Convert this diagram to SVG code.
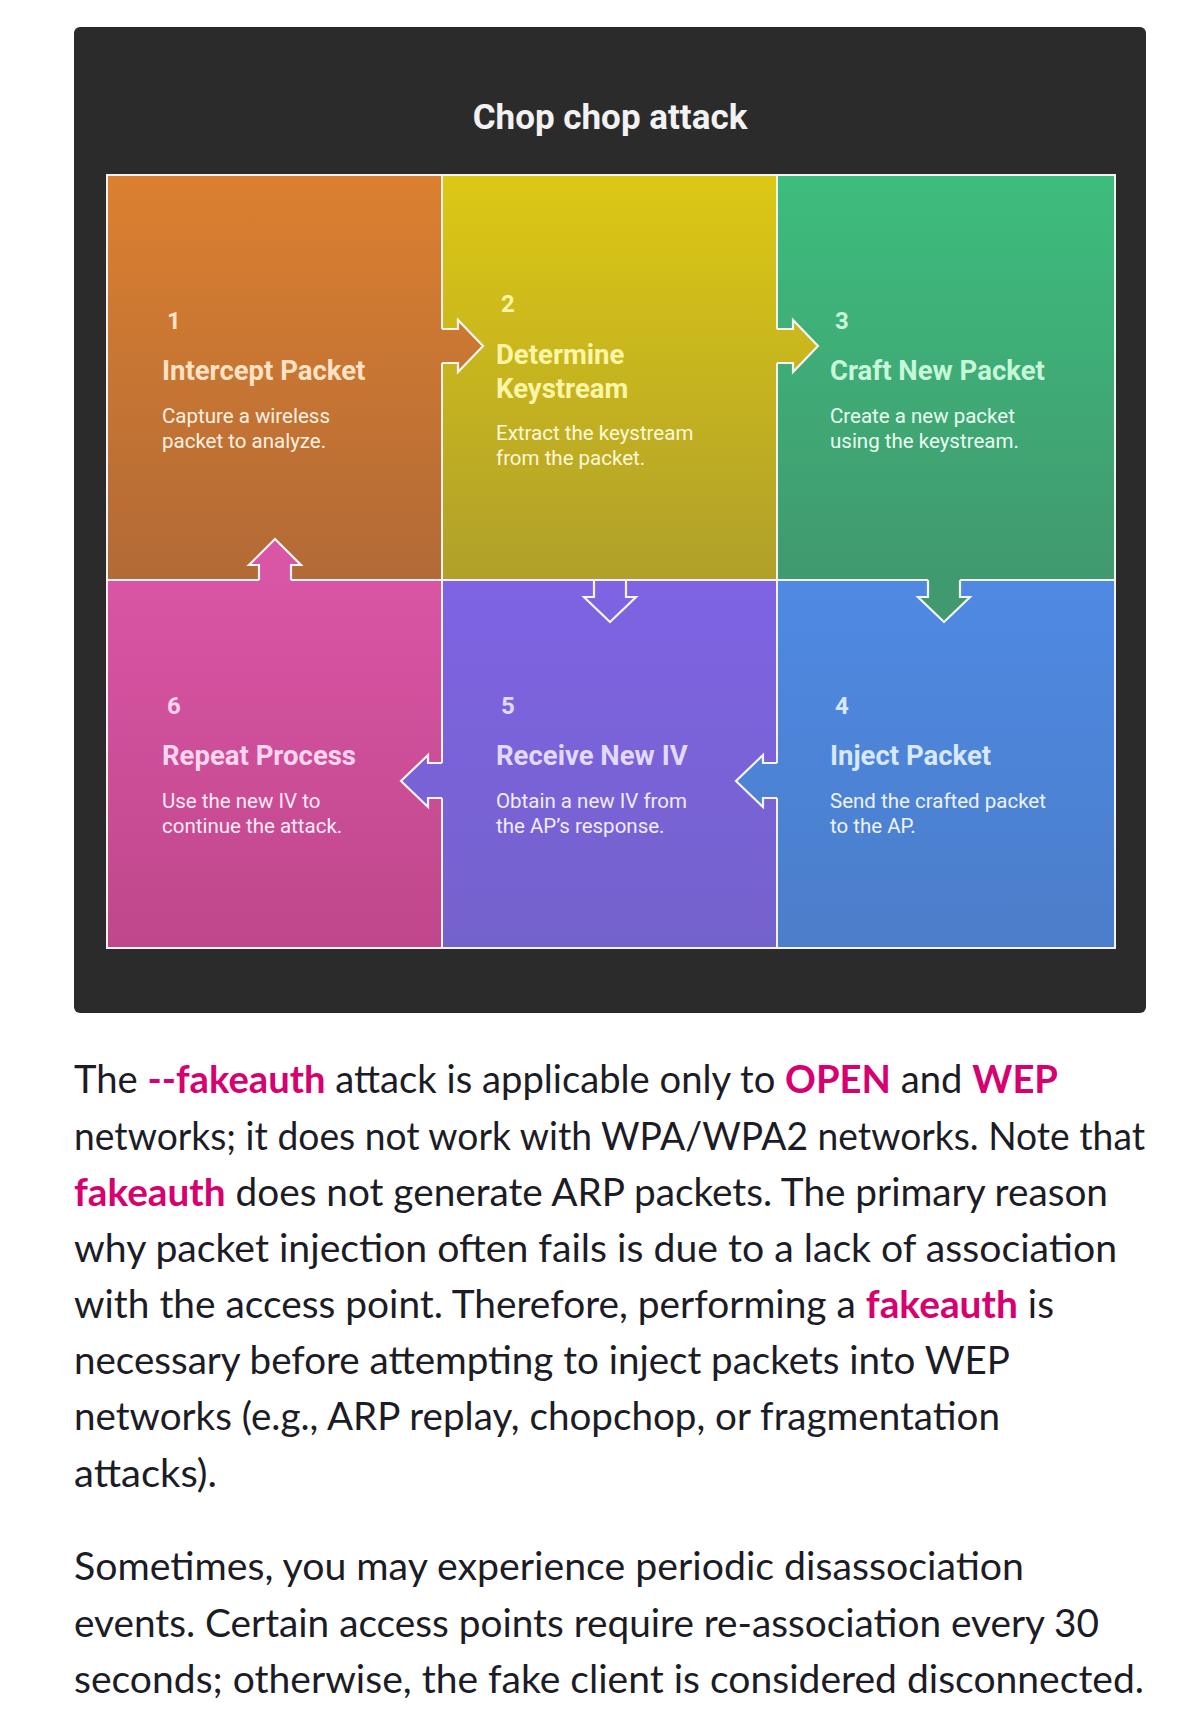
<svg xmlns="http://www.w3.org/2000/svg" width="1200" height="1717" viewBox="0 0 1200 1717">
<defs>
<linearGradient id="gOrange" gradientUnits="userSpaceOnUse" x1="0" y1="175" x2="0" y2="580"><stop offset="0" stop-color="#db8030"/><stop offset="1" stop-color="#b26a36"/></linearGradient>
<linearGradient id="gYellow" gradientUnits="userSpaceOnUse" x1="0" y1="175" x2="0" y2="580"><stop offset="0" stop-color="#dcc814"/><stop offset="1" stop-color="#b0a02a"/></linearGradient>
<linearGradient id="gGreen" gradientUnits="userSpaceOnUse" x1="0" y1="175" x2="0" y2="580"><stop offset="0" stop-color="#3dbd7d"/><stop offset="1" stop-color="#41996f"/></linearGradient>
<linearGradient id="gPink" gradientUnits="userSpaceOnUse" x1="0" y1="580" x2="0" y2="948"><stop offset="0" stop-color="#d955a5"/><stop offset="1" stop-color="#bf478a"/></linearGradient>
<linearGradient id="gPurple" gradientUnits="userSpaceOnUse" x1="0" y1="580" x2="0" y2="948"><stop offset="0" stop-color="#7f63e3"/><stop offset="1" stop-color="#7462cc"/></linearGradient>
<linearGradient id="gBlue" gradientUnits="userSpaceOnUse" x1="0" y1="580" x2="0" y2="948"><stop offset="0" stop-color="#4f89e3"/><stop offset="1" stop-color="#4b7eca"/></linearGradient>
</defs>
<style>
.cell{stroke:#f2f2f2;stroke-width:2}
.num{font-family:Roboto,"Liberation Sans",sans-serif;font-weight:700;font-size:24px}
.ttl{font-family:Roboto,"Liberation Sans",sans-serif;font-weight:700;font-size:27.5px}
.dsc{font-family:Roboto,"Liberation Sans",sans-serif;font-weight:400;font-size:20.5px}
.ol{fill:none;stroke:#f4f4f4;stroke-width:2.2;stroke-linejoin:miter}
.body{font-family:Lato,"Open Sans",sans-serif;font-size:38px;fill:#1c1c26}
.hl{fill:#d6016f;font-weight:700}
</style>
<rect width="1200" height="1717" fill="#ffffff"/>
<rect x="74" y="27" width="1072" height="986" rx="6" fill="#2b2b2b"/>
<text x="610" y="129" text-anchor="middle" font-family="Roboto,'Liberation Sans',sans-serif" font-weight="700" font-size="35" fill="#f2f2f2">Chop chop attack</text>

<g id="node1">
<rect class="cell" x="107" y="175" width="335" height="405" fill="url(#gOrange)"/>
<g fill="#ffe2c4">
<text class="num" x="167" y="329">1</text>
<text class="ttl" x="162" y="380">Intercept Packet</text>
</g>
<g fill="#fff1e2">
<text class="dsc" x="162" y="423">Capture a wireless</text>
<text class="dsc" x="162" y="448">packet to analyze.</text>
</g>
</g>

<g id="node2">
<rect class="cell" x="442" y="175" width="335" height="405" fill="url(#gYellow)"/>
<g fill="#fff5a6">
<text class="num" x="501" y="312">2</text>
<text class="ttl" x="496" y="364">Determine</text>
<text class="ttl" x="496" y="398">Keystream</text>
</g>
<g fill="#fff8d6">
<text class="dsc" x="496" y="440">Extract the keystream</text>
<text class="dsc" x="496" y="465">from the packet.</text>
</g>
</g>

<g id="node3">
<rect class="cell" x="777" y="175" width="338" height="405" fill="url(#gGreen)"/>
<g fill="#c6f7da">
<text class="num" x="835" y="329">3</text>
<text class="ttl" x="830" y="380">Craft New Packet</text>
</g>
<g fill="#e9fff1">
<text class="dsc" x="830" y="423">Create a new packet</text>
<text class="dsc" x="830" y="448">using the keystream.</text>
</g>
</g>

<g id="node6">
<rect class="cell" x="107" y="580" width="335" height="368" fill="url(#gPink)"/>
<g fill="#ffd6ee">
<text class="num" x="167" y="714">6</text>
<text class="ttl" x="162" y="765">Repeat Process</text>
</g>
<g fill="#ffeaf6">
<text class="dsc" x="162" y="808">Use the new IV to</text>
<text class="dsc" x="162" y="833">continue the attack.</text>
</g>
</g>

<g id="node5">
<rect class="cell" x="442" y="580" width="335" height="368" fill="url(#gPurple)"/>
<g fill="#e2dafe">
<text class="num" x="501" y="714">5</text>
<text class="ttl" x="496" y="765">Receive New IV</text>
</g>
<g fill="#f0ecff">
<text class="dsc" x="496" y="808">Obtain a new IV from</text>
<text class="dsc" x="496" y="833">the AP’s response.</text>
</g>
</g>

<g id="node4">
<rect class="cell" x="777" y="580" width="338" height="368" fill="url(#gBlue)"/>
<g fill="#d8e8ff">
<text class="num" x="835" y="714">4</text>
<text class="ttl" x="830" y="765">Inject Packet</text>
</g>
<g fill="#ecf3ff">
<text class="dsc" x="830" y="808">Send the crafted packet</text>
<text class="dsc" x="830" y="833">to the AP.</text>
</g>
</g>

<g id="connectors">
<!-- 1 to 2 -->
<polygon points="438,329 458,329 458,320 483,346 458,372 458,363 438,363" fill="url(#gOrange)"/>
<polyline class="ol" points="442,329 458,329 458,320 483,346 458,372 458,363 442,363"/>
<!-- 2 to 3 -->
<polygon points="773,329 793,329 793,320 818,346 793,372 793,363 773,363" fill="url(#gYellow)"/>
<polyline class="ol" points="777,329 793,329 793,320 818,346 793,372 793,363 777,363"/>
<!-- 3 to 4 -->
<polygon points="928,576 928,597 918,597 944,622 970,597 960,597 960,576" fill="url(#gGreen)"/>
<polyline class="ol" points="928,580 928,597 918,597 944,622 970,597 960,597 960,580"/>
<!-- 2 to 5 -->
<polygon points="594,581 594,597 584,597 610,622 636,597 626,597 626,581" fill="url(#gPurple)"/>
<polyline class="ol" points="594,580 594,597 584,597 610,622 636,597 626,597 626,580"/>
<!-- 4 to 5 -->
<polygon points="781,763 763,763 763,755 736,781 763,807 763,798 781,798" fill="url(#gBlue)"/>
<polyline class="ol" points="777,763 763,763 763,755 736,781 763,807 763,798 777,798"/>
<!-- 5 to 6 -->
<polygon points="446,763 428,763 428,755 401,781 428,807 428,798 446,798" fill="url(#gPurple)"/>
<polyline class="ol" points="442,763 428,763 428,755 401,781 428,807 428,798 442,798"/>
<!-- 6 to 1 -->
<polygon points="259,584 259,565 249,565 275,539 301,565 291,565 291,584" fill="url(#gPink)"/>
<polyline class="ol" points="259,580 259,565 249,565 275,539 301,565 291,565 291,580"/>
</g>

<g id="paragraph1" class="body">
<text x="74" y="1093" textLength="984" lengthAdjust="spacingAndGlyphs">The <tspan class="hl">--fakeauth</tspan> attack is applicable only to <tspan class="hl">OPEN</tspan> and <tspan class="hl">WEP</tspan></text>
<text x="74" y="1150" textLength="1071" lengthAdjust="spacingAndGlyphs">networks; it does not work with WPA/WPA2 networks. Note that</text>
<text x="74" y="1206" textLength="1034" lengthAdjust="spacingAndGlyphs"><tspan class="hl">fakeauth</tspan> does not generate ARP packets. The primary reason</text>
<text x="74" y="1262" textLength="1043" lengthAdjust="spacingAndGlyphs">why packet injection often fails is due to a lack of association</text>
<text x="74" y="1318" textLength="980" lengthAdjust="spacingAndGlyphs">with the access point. Therefore, performing a <tspan class="hl">fakeauth</tspan> is</text>
<text x="74" y="1374" textLength="936" lengthAdjust="spacingAndGlyphs">necessary before attempting to inject packets into WEP</text>
<text x="74" y="1430" textLength="926" lengthAdjust="spacingAndGlyphs">networks (e.g., ARP replay, chopchop, or fragmentation</text>
<text x="74" y="1487" textLength="143" lengthAdjust="spacingAndGlyphs">attacks).</text>
</g>
<g id="paragraph2" class="body">
<text x="74" y="1580" textLength="950" lengthAdjust="spacingAndGlyphs">Sometimes, you may experience periodic disassociation</text>
<text x="74" y="1637" textLength="1025" lengthAdjust="spacingAndGlyphs">events. Certain access points require re-association every 30</text>
<text x="74" y="1693" textLength="1070" lengthAdjust="spacingAndGlyphs">seconds; otherwise, the fake client is considered disconnected.</text>
</g>
</svg>
